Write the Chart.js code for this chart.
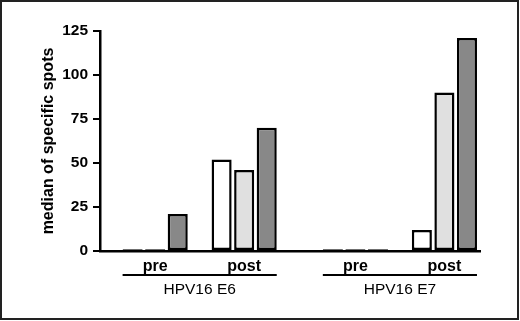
<!DOCTYPE html>
<html>
<head>
<meta charset="utf-8">
<script src="https://cdn.jsdelivr.net/npm/chart.js@4/dist/chart.umd.min.js"></script>
<style>
  html, body { margin: 0; padding: 0; background: #fff; }
  #wrap { position: relative; width: 520px; height: 321px; }
  canvas { display: block; }
</style>
</head>
<body>
<div id="wrap"><canvas id="c" width="520" height="321"></canvas></div>
<script>
// ---- data ----
const groups = ['HPV16 E6', 'HPV16 E7'];
const subCategories = ['pre', 'post'];
const seriesA = [1, 52, 1, 12];    // white bars
const seriesB = [1, 46, 1, 90];    // light grey bars
const seriesC = [21, 70, 1, 121];  // dark grey bars
const yTicks = [0, 25, 50, 75, 100, 125];

// category positions along the x axis (extra gap between groups)
const GROUP_GAP = 0.25;
const positions = [];
const tickLabels = [];
groups.forEach((g, gi) => {
  subCategories.forEach((s, si) => {
    positions.push(gi * subCategories.length + si + gi * GROUP_GAP);
    tickLabels.push(s);
  });
});

function toPoints(arr) { return arr.map((v, i) => ({ x: positions[i], y: v })); }

const common = { borderColor: '#000', borderWidth: 2.5, borderSkipped: false,
                 categoryPercentage: 0.76, barPercentage: 0.89 };

const groupPlugin = {
  id: 'groupLabels',
  afterDraw(chart) {
    const ctx = chart.ctx;
    const metaFirst = chart.getDatasetMeta(0);
    const metaLast = chart.getDatasetMeta(chart.data.datasets.length - 1);
    const per = subCategories.length;
    ctx.save();
    groups.forEach((g, gi) => {
      const a = metaFirst.data[gi * per];
      const b = metaLast.data[gi * per + per - 1];
      const left = a.x - a.width / 2;
      const right = b.x + b.width / 2;
      ctx.strokeStyle = '#000';
      ctx.lineWidth = 2;
      ctx.beginPath();
      ctx.moveTo(left, 275);
      ctx.lineTo(right, 275);
      ctx.stroke();
      ctx.fillStyle = '#000';
      ctx.font = '15.5px "Liberation Sans", Arial, sans-serif';
      ctx.textAlign = 'center';
      ctx.textBaseline = 'middle';
      ctx.fillText(g, (left + right) / 2, 290);
    });
    // outer frame
    ctx.strokeStyle = '#222';
    ctx.lineWidth = 2;
    ctx.strokeRect(1, 1, 517, 318);
    ctx.restore();
  }
};

new Chart(document.getElementById('c'), {
  type: 'bar',
  data: {
    datasets: [
      Object.assign({ label: 'A', data: toPoints(seriesA), backgroundColor: '#ffffff' }, common),
      Object.assign({ label: 'B', data: toPoints(seriesB), backgroundColor: '#e0e0e0' }, common),
      Object.assign({ label: 'C', data: toPoints(seriesC), backgroundColor: '#888888' }, common)
    ]
  },
  options: {
    responsive: false,
    animation: false,
    events: [],
    layout: { padding: { top: 31, right: 40, left: 0, bottom: 0 } },
    plugins: { legend: { display: false }, tooltip: { enabled: false } },
    scales: {
      x: {
        type: 'linear',
        offset: false,
        min: -0.62,
        max: 3.65,
        grid: { display: false, drawTicks: false },
        border: { display: true, color: '#000', width: 2.5 },
        afterBuildTicks(scale) { scale.ticks = positions.map(v => ({ value: v })); },
        afterFit(scale) { scale.height = 70; },
        ticks: {
          autoSkip: false, maxRotation: 0, padding: 6, color: '#000',
          font: { family: '"Liberation Sans", Arial, sans-serif', size: 16, weight: 'bold' },
          callback: (v, i) => tickLabels[i]
        }
      },
      y: {
        min: 0,
        max: 125,
        afterBuildTicks(scale) { scale.ticks = yTicks.map(v => ({ value: v })); },
        afterFit(scale) { scale.width = 100; },
        grid: { display: true, drawOnChartArea: false, drawTicks: true, tickLength: 7, color: '#000', lineWidth: 2 },
        border: { display: true, color: '#000', width: 2.5 },
        ticks: {
          padding: 5, color: '#000',
          font: { family: '"Liberation Sans", Arial, sans-serif', size: 15.5, weight: 'bold' }
        },
        title: {
          display: true,
          text: 'median of specific spots',
          color: '#000',
          padding: { top: 39, bottom: 0 },
          font: { family: '"Liberation Sans", Arial, sans-serif', size: 16, weight: 'bold' }
        }
      }
    }
  },
  plugins: [groupPlugin]
});
</script>
</body>
</html>
